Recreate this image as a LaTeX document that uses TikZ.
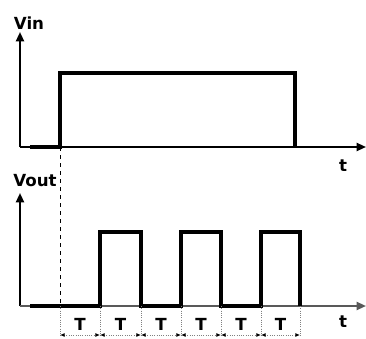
\documentclass[tikz,border=0pt]{standalone}
\usepackage{fontspec}
\setmainfont{DejaVu Sans}
\usetikzlibrary{arrows.meta}
\begin{document}
\begin{tikzpicture}[x=0.75pt,y=-0.75pt,
    axis/.style={line width=1.5pt,-{Triangle[length=7pt,width=6pt]}},
    signal/.style={line width=2.7pt,line join=miter},
    lbl/.style={font=\bfseries\fontsize{12.5}{14}\selectfont,inner sep=0pt},
    tick/.style={gray,densely dotted,line width=0.7pt},
    span/.style={gray,densely dotted,line width=0.7pt,{Latex[length=3.5pt,width=3pt,black]}-{Latex[length=3.5pt,width=3pt,black]}}]
    \useasboundingbox (0,0) rectangle (366,338);

    % Axes of the input
    \coordinate (inO) at (20,147);
    \draw[axis] (inO) -- (20,32);
    \draw[axis] (inO) -- (366,147);
    \node[lbl] (vin) at (29,23) {Vin};
    \node[lbl] (tin) at (343,166) {t};

    % Input step
    \draw[signal] (30,147) -- (60,147) -- (60,73) -- (295,73) -- (295,147);

    % Axes of the output
    \coordinate (outO) at (20,306);
    \draw[axis] (outO) -- (20,193);
    \draw[axis,gray!70!black] (outO) -- (366,306);
    \node[lbl] (vout) at (35,181) {Vout};
    \node[lbl] (tout) at (343,322) {t};

    % Output square wave
    \draw[signal] (30,306) -- (100,306) -- (100,232) -- (141,232) -- (141,306)
        -- (181,306) -- (181,232) -- (221,232) -- (221,306)
        -- (261,306) -- (261,232) -- (300,232) -- (300,306);

    % Switch-on instant
    \draw[dashed,line width=0.7pt] (60,147) -- (60,306);

    % Periods
    \foreach \a/\b in {60/100,100/141,141/181,181/221,221/261,261/300}{
        \draw[tick] (\a,306) -- (\a,337);
        \draw[tick] (\b,306) -- (\b,337);
        \draw[span] (\a,335) -- (\b,335);
        \node[lbl] (T\a) at ({(\a+\b)/2},324) {T};
    }
\end{tikzpicture}
\end{document}
